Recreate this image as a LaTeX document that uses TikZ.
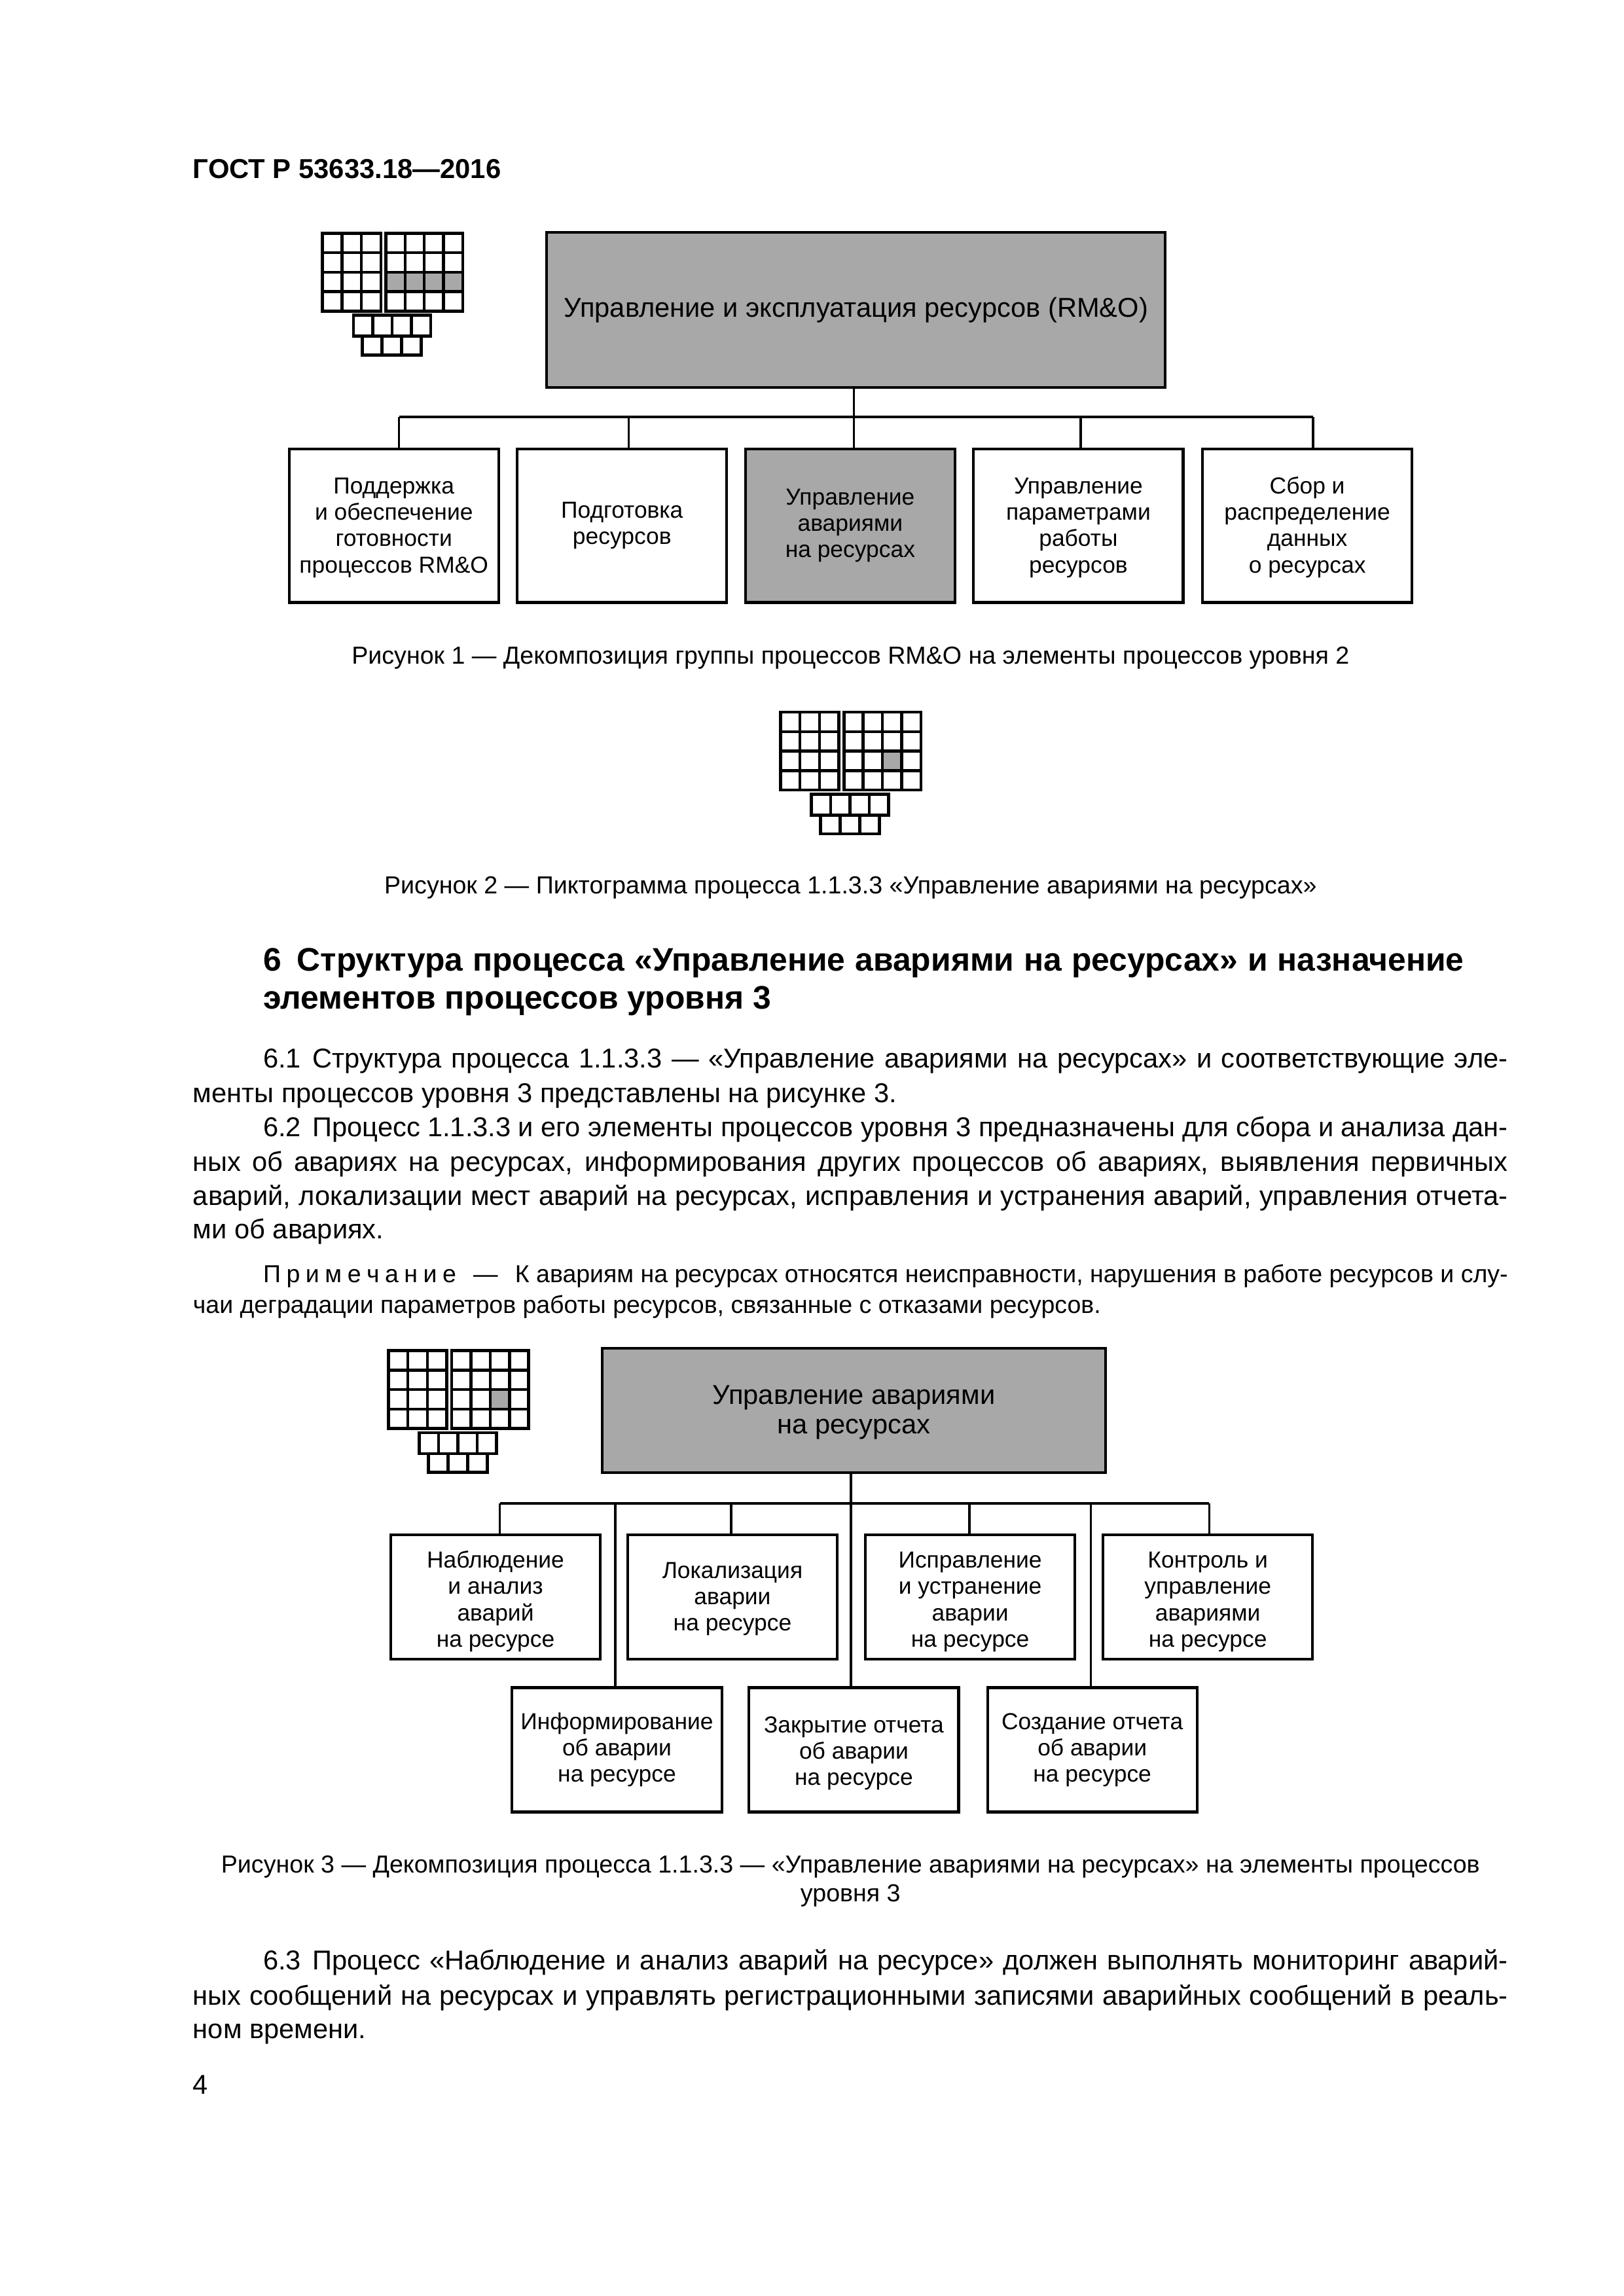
\documentclass[tikz,border=0pt]{standalone}
\usepackage{fontspec}
\setmainfont{Liberation Sans}
\newlength{\ux}\setlength{\ux}{0.018919cm}
\newcommand{\pictog}[4]{% x, y, highlighted columns, highlighted row
  \begin{scope}[shift={(#1,#2)}]
    \foreach \c in {#3} {\fill[dith] (43.4+13.15*\c-13.15,#4*13.3-13.3) rectangle ++(13.15,13.3);}
    \foreach \c in {0,1,2} {\foreach \r in {0,1,2,3} {\draw[cell] (13.33*\c,13.3*\r) rectangle ++(13.33,13.3);}}
    \foreach \c in {0,1,2,3} {\foreach \r in {0,1,2,3} {\draw[cell] (43.4+13.15*\c,13.3*\r) rectangle ++(13.15,13.3);}}
    \foreach \c in {0,1,2,3} {\draw[cell] (21.2+13.2*\c,56) rectangle ++(13.2,14.3);}
    \foreach \c in {0,1,2} {\draw[cell] (27.4+13.4*\c,70.3) rectangle ++(13.4,12.9);}
  \end{scope}}
\newcommand{\jl}[2]{\hbox to #1\ux{#2}}
\newcommand{\dn}[1]{\rule{0pt}{#1pt}}
\def\nsp{\hskip 0.42em\relax}
\tikzset{
  dith/.style={fill=black!34},
  cell/.style={draw=black,line width=1.1pt},
  pbox/.style={draw=black,line width=1pt,inner sep=0pt,outer sep=0pt,align=center,
     font=\fontsize{8.53}{9.65}\selectfont,minimum width=143.3\ux,minimum height=105\ux},
  rbox/.style={pbox,minimum height=85\ux},
  bigbox/.style={pbox,dith,font=\fontsize{10.03}{10.8}\selectfont},
  conn/.style={draw=black,line width=0.85pt},
  txt/.style={inner sep=0pt,outer sep=0pt,anchor=base west,font=\fontsize{10.03}{12}\selectfont},
  capt/.style={inner sep=0pt,outer sep=0pt,anchor=base,font=\fontsize{9.06}{11}\selectfont},
  notel/.style={txt,font=\fontsize{9.03}{11}\selectfont},
  headl/.style={txt,font=\fontsize{12}{14}\selectfont\bfseries},
}
\begin{document}
\begin{tikzpicture}[x=\ux,y=-\ux]
\useasboundingbox (0,0) rectangle (1110,1570);
\fill[white] (0,0) rectangle (1110,1570);

\node[txt,font=\fontsize{10.07}{12}\selectfont\bfseries] (title) at (132,122) {ГОСТ Р 53633.18—2016};

% Figure 1
\pictog{220.4}{159.5}{1,2,3,4}{3}
\begin{scope}[shift={(0.8,1)}]
\node[bigbox,minimum width=423\ux,minimum height=106\ux] (top1) at (584.5,211) {Управление и эксплуатация ресурсов (RM\&O)};
\node[pbox] (a1) at (268.5,358.5) {\dn{7.4}Поддержка\\и обеспечение\\готовности\\процессов RM\&O};
\node[pbox] (a2) at (424.5,358.5) {Подготовка\\ресурсов};
\node[pbox,dith] (a3) at (580.5,358.5) {Управление\\авариями\\на ресурсах};
\node[pbox] (a4) at (736.5,358.5) {\dn{7.4}Управление\\параметрами\\работы\\ресурсов};
\node[pbox] (a5) at (893,358.5) {\dn{7.4}Сбор и\\распределение\\данных\\о ресурсах};
\coordinate (j1) at (272,284);
\coordinate (j2) at (429,284);
\coordinate (j3) at (583,284);
\coordinate (j4) at (738,284);
\coordinate (j5) at (897,284);
\draw[conn] (j1) -- (j5);
\draw[conn] (top1.south -| j3) -- (j3) -- (j3 |- a3.north);
\draw[conn] (j1) -- (j1 |- a1.north);
\draw[conn] (j2) -- (j2 |- a2.north);
\draw[conn] (j4) -- (j4 |- a4.north);
\draw[conn] (j5) -- (j5 |- a5.north);
\end{scope}
\node[capt] (c1) at (581.5,454) {Рисунок 1 — Декомпозиция группы процессов RM\&O на элементы процессов уровня 2};

% Figure 2
\pictog{533.6}{487}{3}{3}
\node[capt] (c2) at (581.5,611) {Рисунок 2 — Пиктограмма процесса 1.1.3.3 «Управление авариями на ресурсах»};

% Section
\node[headl] (h1) at (180,664) {\jl{821}{6\hskip 0.48em Структура процесса «Управление авариями на ресурсах» и назначение}};
\node[headl] (h2) at (180,690) {элементов процессов уровня 3};

\node[txt] (p1) at (180,730) {\jl{851}{6.1\nsp Структура процесса 1.1.3.3 — «Управление авариями на ресурсах» и соответствующие эле-}};
\node[txt] (p2) at (132,754) {менты процессов уровня 3 представлены на рисунке 3.};
\node[txt] (p3) at (180,777) {\jl{851}{6.2\nsp Процесс 1.1.3.3 и его элементы процессов уровня 3 предназначены для сбора и анализа дан-}};
\node[txt] (p4) at (132,801) {\jl{899}{ных об авариях на ресурсах, информирования других процессов об авариях, выявления первичных}};
\node[txt] (p5) at (132,824) {\jl{899}{аварий, локализации мест аварий на ресурсах, исправления и устранения аварий, управления отчета-}};
\node[txt] (p6) at (132,847) {ми об авариях.};
\def\lsp{\hskip 2.05pt}
\node[notel] (n1) at (180,877) {\jl{851}{П\lsp р\lsp и\lsp м\lsp е\lsp ч\lsp а\lsp н\lsp и\lsp е\hskip 0.7em —\hskip 0.7em К авариям на ресурсах относятся неисправности, нарушения в работе ресурсов и слу-}};
\node[notel] (n2) at (132,898) {чаи деградации параметров работы ресурсов, связанные с отказами ресурсов.};

% Figure 3
\pictog{265.5}{923.6}{3}{3}
\begin{scope}[shift={(0.8,1)}]
\node[bigbox,minimum width=344\ux,minimum height=85\ux] (top3) at (583,963.5) {\dn{8.3}Управление авариями\\на ресурсах};
\node[rbox] (b1) at (338,1091) {\dn{9.5}Наблюдение\\и анализ\\аварий\\на ресурсе};
\node[rbox] (b2) at (500,1091) {\dn{7.5}Локализация\\аварии\\на ресурсе};
\node[rbox] (b3) at (662.5,1091) {\dn{9.5}Исправление\\и устранение\\аварии\\на ресурсе};
\node[rbox] (b4) at (825,1091) {\dn{9.5}Контроль и\\управление\\авариями\\на ресурсе};
\node[rbox] (b5) at (421,1195.5) {Информирование\\об аварии\\на ресурсе};
\node[rbox] (b6) at (583,1195.5) {\dn{8.5}Закрытие отчета\\об аварии\\на ресурсе};
\node[rbox] (b7) at (746,1195.5) {Создание отчета\\об аварии\\на ресурсе};
\coordinate (k1) at (341,1027);
\coordinate (k2) at (420,1027);
\coordinate (k3) at (499,1027);
\coordinate (k4) at (581,1027);
\coordinate (k5) at (662,1027);
\coordinate (k6) at (745,1027);
\coordinate (k7) at (826,1027);
\draw[conn] (k1) -- (k7);
\draw[conn] (top3.south -| k4) -- (k4) -- (k4 |- b6.north);
\draw[conn] (k1) -- (k1 |- b1.north);
\draw[conn] (k2) -- (k2 |- b5.north);
\draw[conn] (k3) -- (k3 |- b2.north);
\draw[conn] (k5) -- (k5 |- b3.north);
\draw[conn] (k6) -- (k6 |- b7.north);
\draw[conn] (k7) -- (k7 |- b4.north);
\end{scope}
\node[capt] (c3a) at (581.5,1280.5) {Рисунок 3 — Декомпозиция процесса 1.1.3.3 — «Управление авариями на ресурсах» на элементы процессов};
\node[capt] (c3b) at (581.5,1300.5) {уровня 3};

\node[txt] (q1) at (180,1347) {\jl{851}{6.3\nsp Процесс «Наблюдение и анализ аварий на ресурсе» должен выполнять мониторинг аварий-}};
\node[txt] (q2) at (132,1371) {\jl{899}{ных сообщений на ресурсах и управлять регистрационными записями аварийных сообщений в реаль-}};
\node[txt] (q3) at (132,1394) {ном времени.};
\node[txt] (pg) at (132,1432) {4};
\end{tikzpicture}
\end{document}
